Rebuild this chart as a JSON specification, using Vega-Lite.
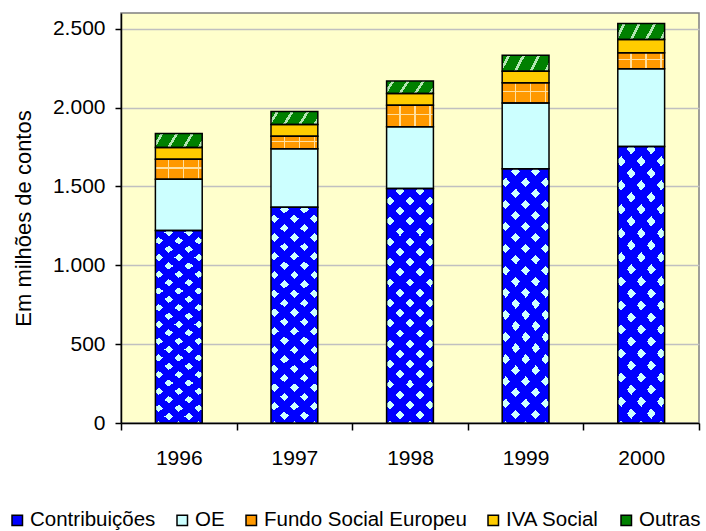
{
  "$schema": "https://vega.github.io/schema/vega-lite/v6.json",
  "width": 578,
  "height": 410,
  "autosize": {"type": "none"},
  "padding": {"left": 121, "top": 13, "right": 7, "bottom": 108},
  "background": "white",
  "config": {
    "font": "Liberation Sans",
    "view": {"fill": "#FFFFCC", "stroke": "#808080", "strokeWidth": 1.5},
    "axis": {
      "labelFont": "Liberation Sans", "labelFontSize": 21, "labelColor": "black",
      "titleFont": "Liberation Sans", "titleFontSize": 22, "titleFontWeight": "normal", "titleColor": "black",
      "domainColor": "black", "domainWidth": 1.5, "tickColor": "black", "tickWidth": 1.5
    },
    "legend": {
      "orient": "none", "legendX": -114, "legendY": 497, "direction": "horizontal",
      "symbolType": "square", "symbolSize": 110, "symbolStrokeColor": "black", "symbolStrokeWidth": 1.5,
      "symbolOpacity": 1, "labelFont": "Liberation Sans", "labelFontSize": 20.5, "labelColor": "black",
      "labelLimit": 0, "labelOffset": 2.5, "columnPadding": 16, "padding": 0
    }
  },
  "data": {
    "values": [
      {"Ano": "1996", "Fonte": "Contribuições", "Valor": 1220},
      {"Ano": "1996", "Fonte": "OE", "Valor": 326},
      {"Ano": "1996", "Fonte": "Fundo Social Europeu", "Valor": 127},
      {"Ano": "1996", "Fonte": "IVA Social", "Valor": 74},
      {"Ano": "1996", "Fonte": "Outras", "Valor": 89},
      {"Ano": "1997", "Fonte": "Contribuições", "Valor": 1368},
      {"Ano": "1997", "Fonte": "OE", "Valor": 371},
      {"Ano": "1997", "Fonte": "Fundo Social Europeu", "Valor": 80},
      {"Ano": "1997", "Fonte": "IVA Social", "Valor": 74},
      {"Ano": "1997", "Fonte": "Outras", "Valor": 83},
      {"Ano": "1998", "Fonte": "Contribuições", "Valor": 1487},
      {"Ano": "1998", "Fonte": "OE", "Valor": 391},
      {"Ano": "1998", "Fonte": "Fundo Social Europeu", "Valor": 137},
      {"Ano": "1998", "Fonte": "IVA Social", "Valor": 74},
      {"Ano": "1998", "Fonte": "Outras", "Valor": 79},
      {"Ano": "1999", "Fonte": "Contribuições", "Valor": 1612},
      {"Ano": "1999", "Fonte": "OE", "Valor": 418},
      {"Ano": "1999", "Fonte": "Fundo Social Europeu", "Valor": 127},
      {"Ano": "1999", "Fonte": "IVA Social", "Valor": 74},
      {"Ano": "1999", "Fonte": "Outras", "Valor": 101},
      {"Ano": "2000", "Fonte": "Contribuições", "Valor": 1753},
      {"Ano": "2000", "Fonte": "OE", "Valor": 493},
      {"Ano": "2000", "Fonte": "Fundo Social Europeu", "Valor": 102},
      {"Ano": "2000", "Fonte": "IVA Social", "Valor": 84},
      {"Ano": "2000", "Fonte": "Outras", "Valor": 102}
    ]
  },
  "transform": [
    {"window": [{"op": "row_number", "as": "posicao"}], "groupby": ["Ano"]}
  ],
  "encoding": {
    "x": {
      "field": "Ano", "type": "ordinal",
      "scale": {"paddingInner": 0, "paddingOuter": 0},
      "axis": {"title": null, "labelAngle": 0, "tickBand": "extent", "tickSize": 7, "labelPadding": 17, "grid": false}
    },
    "y": {
      "field": "Valor", "type": "quantitative", "stack": "zero",
      "scale": {"domain": [0, 2600], "nice": false},
      "axis": {
        "title": "Em milhões de contos",
        "values": [0, 500, 1000, 1500, 2000, 2500],
        "labelExpr": "replace(format(datum.value, ',d'), ',', '.')",
        "grid": true, "gridColor": "#C0C0C0", "gridWidth": 1.5,
        "tickSize": 6, "labelPadding": 10, "titlePadding": 17
      }
    },
    "order": {"field": "posicao", "type": "quantitative", "sort": "ascending"}
  },
  "layer": [
    {
      "mark": {"type": "bar", "width": {"band": 0.405}, "strokeWidth": 0},
      "encoding": {
        "color": {
          "field": "Fonte", "type": "nominal",
          "scale": {
            "domain": ["Contribuições", "OE", "Fundo Social Europeu", "IVA Social", "Outras"],
            "range": ["#0000FF", "#CCFFFF", "#FF9900", "#FFCC00", "#008000"]
          },
          "legend": {"title": null},
          "condition": [
            {
              "test": "datum.Fonte === 'Contribuições'",
              "value": {
                "gradient": "linear", "x1": 0, "y1": 0, "x2": 0.2351, "y2": 1.1556,
                "stops": [
                  {"offset": 0, "color": "#0000FF"}, {"offset": 0.0405, "color": "#0000FF"}, {"offset": 0.0405, "color": "#CCFFFF"}, {"offset": 0.0723, "color": "#CCFFFF"},
                  {"offset": 0.0723, "color": "#0000FF"}, {"offset": 0.1128, "color": "#0000FF"}, {"offset": 0.1128, "color": "#CCFFFF"}, {"offset": 0.1445, "color": "#CCFFFF"},
                  {"offset": 0.1445, "color": "#0000FF"}, {"offset": 0.185, "color": "#0000FF"}, {"offset": 0.185, "color": "#CCFFFF"}, {"offset": 0.2168, "color": "#CCFFFF"},
                  {"offset": 0.2168, "color": "#0000FF"}, {"offset": 0.2573, "color": "#0000FF"}, {"offset": 0.2573, "color": "#CCFFFF"}, {"offset": 0.289, "color": "#CCFFFF"},
                  {"offset": 0.289, "color": "#0000FF"}, {"offset": 0.3295, "color": "#0000FF"}, {"offset": 0.3295, "color": "#CCFFFF"}, {"offset": 0.3613, "color": "#CCFFFF"},
                  {"offset": 0.3613, "color": "#0000FF"}, {"offset": 0.4018, "color": "#0000FF"}, {"offset": 0.4018, "color": "#CCFFFF"}, {"offset": 0.4335, "color": "#CCFFFF"},
                  {"offset": 0.4335, "color": "#0000FF"}, {"offset": 0.474, "color": "#0000FF"}, {"offset": 0.474, "color": "#CCFFFF"}, {"offset": 0.5058, "color": "#CCFFFF"},
                  {"offset": 0.5058, "color": "#0000FF"}, {"offset": 0.5463, "color": "#0000FF"}, {"offset": 0.5463, "color": "#CCFFFF"}, {"offset": 0.578, "color": "#CCFFFF"},
                  {"offset": 0.578, "color": "#0000FF"}, {"offset": 0.6185, "color": "#0000FF"}, {"offset": 0.6185, "color": "#CCFFFF"}, {"offset": 0.6503, "color": "#CCFFFF"},
                  {"offset": 0.6503, "color": "#0000FF"}, {"offset": 0.6908, "color": "#0000FF"}, {"offset": 0.6908, "color": "#CCFFFF"}, {"offset": 0.7225, "color": "#CCFFFF"},
                  {"offset": 0.7225, "color": "#0000FF"}, {"offset": 0.763, "color": "#0000FF"}, {"offset": 0.763, "color": "#CCFFFF"}, {"offset": 0.7948, "color": "#CCFFFF"},
                  {"offset": 0.7948, "color": "#0000FF"}, {"offset": 0.8353, "color": "#0000FF"}, {"offset": 0.8353, "color": "#CCFFFF"}, {"offset": 0.867, "color": "#CCFFFF"},
                  {"offset": 0.867, "color": "#0000FF"}, {"offset": 0.9075, "color": "#0000FF"}, {"offset": 0.9075, "color": "#CCFFFF"}, {"offset": 0.9393, "color": "#CCFFFF"},
                  {"offset": 0.9393, "color": "#0000FF"}, {"offset": 0.9798, "color": "#0000FF"}, {"offset": 0.9798, "color": "#CCFFFF"}, {"offset": 1, "color": "#CCFFFF"}
                ]
              }
            },
            {
              "test": "datum.Fonte === 'Fundo Social Europeu'",
              "value": {
                "gradient": "linear", "x1": 0, "y1": 0, "x2": 1, "y2": 0,
                "stops": [
                  {"offset": 0, "color": "#FF9900"}, {"offset": 0.268, "color": "#FF9900"}, {"offset": 0.268, "color": "#FFE0A0"}, {"offset": 0.3, "color": "#FFE0A0"},
                  {"offset": 0.3, "color": "#FF9900"}, {"offset": 0.589, "color": "#FF9900"}, {"offset": 0.589, "color": "#FFE0A0"}, {"offset": 0.621, "color": "#FFE0A0"},
                  {"offset": 0.621, "color": "#FF9900"}, {"offset": 0.909, "color": "#FF9900"}, {"offset": 0.909, "color": "#FFE0A0"}, {"offset": 0.941, "color": "#FFE0A0"},
                  {"offset": 0.941, "color": "#FF9900"}, {"offset": 1, "color": "#FF9900"}
                ]
              }
            },
            {
              "test": "datum.Fonte === 'Outras'",
              "value": {
                "gradient": "linear", "x1": 0, "y1": 0, "x2": 1.1406, "y2": 0.2007,
                "stops": [
                  {"offset": 0, "color": "#008000"}, {"offset": 0.0925, "color": "#008000"}, {"offset": 0.0925, "color": "#B3E6B3"}, {"offset": 0.1475, "color": "#B3E6B3"},
                  {"offset": 0.1475, "color": "#008000"}, {"offset": 0.3625, "color": "#008000"}, {"offset": 0.3625, "color": "#B3E6B3"}, {"offset": 0.4175, "color": "#B3E6B3"},
                  {"offset": 0.4175, "color": "#008000"}, {"offset": 0.6425, "color": "#008000"}, {"offset": 0.6425, "color": "#B3E6B3"}, {"offset": 0.6975, "color": "#B3E6B3"},
                  {"offset": 0.6975, "color": "#008000"}, {"offset": 0.9125, "color": "#008000"}, {"offset": 0.9125, "color": "#B3E6B3"}, {"offset": 0.9675, "color": "#B3E6B3"},
                  {"offset": 0.9675, "color": "#008000"}, {"offset": 1, "color": "#008000"}
                ]
              }
            }
          ]
        }
      }
    },
    {
      "mark": {"type": "bar", "width": {"band": 0.405}, "stroke": "black", "strokeWidth": 1.5},
      "encoding": {
        "detail": {"field": "Fonte", "type": "nominal"},
        "fill": {
          "condition": [
            {
              "test": "datum.Fonte === 'Contribuições'",
              "value": {
                "gradient": "linear", "x1": 1, "y1": 0, "x2": 0.7649, "y2": 1.1556,
                "stops": [
                  {"offset": 0, "color": "#0000FF"}, {"offset": 0.0405, "color": "#0000FF"}, {"offset": 0.0405, "color": "rgba(0,0,255,0)"}, {"offset": 0.0723, "color": "rgba(0,0,255,0)"},
                  {"offset": 0.0723, "color": "#0000FF"}, {"offset": 0.1128, "color": "#0000FF"}, {"offset": 0.1128, "color": "rgba(0,0,255,0)"}, {"offset": 0.1445, "color": "rgba(0,0,255,0)"},
                  {"offset": 0.1445, "color": "#0000FF"}, {"offset": 0.185, "color": "#0000FF"}, {"offset": 0.185, "color": "rgba(0,0,255,0)"}, {"offset": 0.2168, "color": "rgba(0,0,255,0)"},
                  {"offset": 0.2168, "color": "#0000FF"}, {"offset": 0.2573, "color": "#0000FF"}, {"offset": 0.2573, "color": "rgba(0,0,255,0)"}, {"offset": 0.289, "color": "rgba(0,0,255,0)"},
                  {"offset": 0.289, "color": "#0000FF"}, {"offset": 0.3295, "color": "#0000FF"}, {"offset": 0.3295, "color": "rgba(0,0,255,0)"}, {"offset": 0.3613, "color": "rgba(0,0,255,0)"},
                  {"offset": 0.3613, "color": "#0000FF"}, {"offset": 0.4018, "color": "#0000FF"}, {"offset": 0.4018, "color": "rgba(0,0,255,0)"}, {"offset": 0.4335, "color": "rgba(0,0,255,0)"},
                  {"offset": 0.4335, "color": "#0000FF"}, {"offset": 0.474, "color": "#0000FF"}, {"offset": 0.474, "color": "rgba(0,0,255,0)"}, {"offset": 0.5058, "color": "rgba(0,0,255,0)"},
                  {"offset": 0.5058, "color": "#0000FF"}, {"offset": 0.5463, "color": "#0000FF"}, {"offset": 0.5463, "color": "rgba(0,0,255,0)"}, {"offset": 0.578, "color": "rgba(0,0,255,0)"},
                  {"offset": 0.578, "color": "#0000FF"}, {"offset": 0.6185, "color": "#0000FF"}, {"offset": 0.6185, "color": "rgba(0,0,255,0)"}, {"offset": 0.6503, "color": "rgba(0,0,255,0)"},
                  {"offset": 0.6503, "color": "#0000FF"}, {"offset": 0.6908, "color": "#0000FF"}, {"offset": 0.6908, "color": "rgba(0,0,255,0)"}, {"offset": 0.7225, "color": "rgba(0,0,255,0)"},
                  {"offset": 0.7225, "color": "#0000FF"}, {"offset": 0.763, "color": "#0000FF"}, {"offset": 0.763, "color": "rgba(0,0,255,0)"}, {"offset": 0.7948, "color": "rgba(0,0,255,0)"},
                  {"offset": 0.7948, "color": "#0000FF"}, {"offset": 0.8353, "color": "#0000FF"}, {"offset": 0.8353, "color": "rgba(0,0,255,0)"}, {"offset": 0.867, "color": "rgba(0,0,255,0)"},
                  {"offset": 0.867, "color": "#0000FF"}, {"offset": 0.9075, "color": "#0000FF"}, {"offset": 0.9075, "color": "rgba(0,0,255,0)"}, {"offset": 0.9393, "color": "rgba(0,0,255,0)"},
                  {"offset": 0.9393, "color": "#0000FF"}, {"offset": 0.9798, "color": "#0000FF"}, {"offset": 0.9798, "color": "rgba(0,0,255,0)"}, {"offset": 1, "color": "rgba(0,0,255,0)"}
                ]
              }
            },
            {
              "test": "datum.Fonte === 'Fundo Social Europeu'",
              "value": {
                "gradient": "linear", "x1": 0, "y1": 0, "x2": 0, "y2": 1,
                "stops": [
                  {"offset": 0, "color": "rgba(255,224,160,0)"}, {"offset": 0.39, "color": "rgba(255,224,160,0)"},
                  {"offset": 0.39, "color": "#FFE0A0"}, {"offset": 0.47, "color": "#FFE0A0"},
                  {"offset": 0.47, "color": "rgba(255,224,160,0)"}, {"offset": 1, "color": "rgba(255,224,160,0)"}
                ]
              }
            }
          ],
          "value": "transparent"
        }
      }
    }
  ]
}
